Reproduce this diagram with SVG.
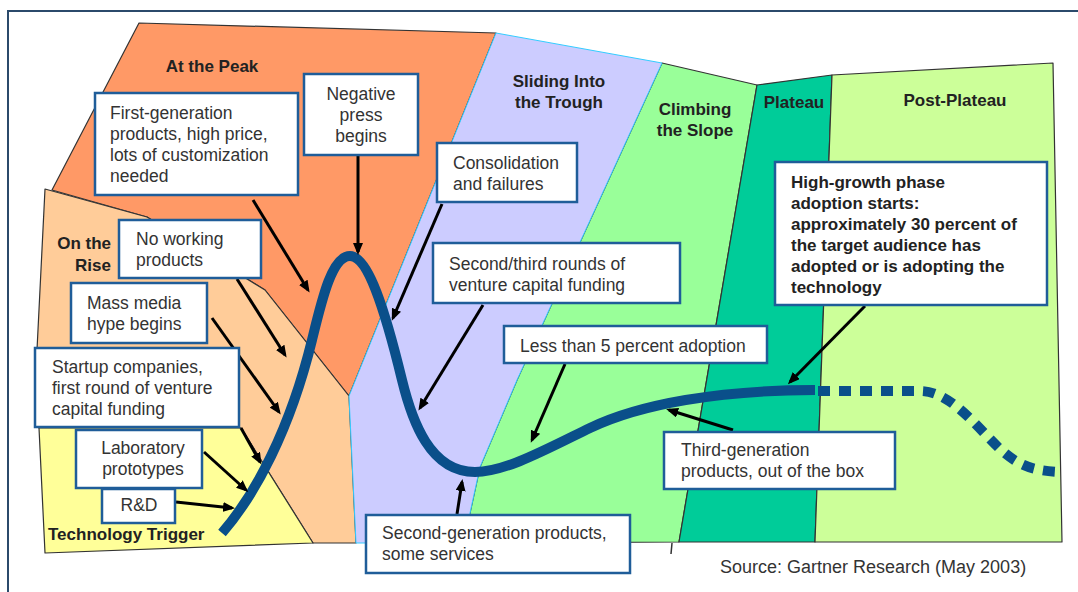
<svg xmlns="http://www.w3.org/2000/svg" width="1078" height="592" viewBox="0 0 1078 592">
<style>
.reg{stroke:#333;stroke-width:1.2;stroke-linejoin:round}
.lbl{font-family:"Liberation Sans",Arial,sans-serif;font-size:17px;font-weight:bold;fill:#222}
.box{fill:#fff;stroke:#1f5d99;stroke-width:2.5}
.bt{font-family:"Liberation Sans",Arial,sans-serif;font-size:17.5px;fill:#333}
.bb{font-family:"Liberation Sans",Arial,sans-serif;font-size:17px;font-weight:bold;fill:#222}
.arr{stroke:#000;stroke-width:3;fill:none;marker-end:url(#ah)}
.curve{fill:none;stroke:#0a4f8a;stroke-width:10}
</style>
<defs>
<marker id="ah" viewBox="0 0 12 10" refX="9" refY="5" markerWidth="12" markerHeight="10" markerUnits="userSpaceOnUse" orient="auto">
<path d="M0,0 L12,5 L0,10 z" fill="#000"/>
</marker>
</defs>
<rect x="0" y="0" width="1078" height="592" fill="#fff"/>
<rect x="8" y="11" width="1085" height="600" fill="#fff" stroke="#2b4a6b" stroke-width="2"/>

<g id="regions">
<polygon class="reg" fill="#FF9966" points="139,23 496,33 349,396 265,290 147,217 52,190"/>
<polygon class="reg" fill="#FFCC99" points="45,189 147,217 265,290 349,396 356,543 313,543 241,428 39,428 37,350"/>
<polygon class="reg" fill="#FFFF99" points="39,428 241,428 313,543 45,553"/>
<polygon class="reg" fill="#99FF99" points="662,63 757,85 679,542 468,543 470,513 480,467 517,380"/>
<polygon class="reg" fill="#00CC99" points="757,85 832,75 815,542 679,542"/>
<polygon class="reg" fill="#CCFF99" points="832,75 1053,63 1062,542 815,542"/>
<polygon fill="#CCCCFF" stroke="#33ccff" stroke-width="1" points="496,33 662,63 517,380 480,467 470,513 468,543 356,543 349,396"/>
<line x1="672" y1="543" x2="671" y2="554" stroke="#333" stroke-width="1.5"/>
</g>

<g id="region-labels">
<text class="lbl" x="212" y="72" text-anchor="middle">At the Peak</text>
<text class="lbl" x="111" y="249" text-anchor="end">On the</text>
<text class="lbl" x="111" y="271" text-anchor="end">Rise</text>
<text class="lbl" x="48" y="540">Technology Trigger</text>
<text class="lbl" x="559" y="87" text-anchor="middle">Sliding Into</text>
<text class="lbl" x="559" y="108" text-anchor="middle">the Trough</text>
<text class="lbl" x="695" y="115" text-anchor="middle">Climbing</text>
<text class="lbl" x="695" y="136" text-anchor="middle">the Slope</text>
<text class="lbl" x="794" y="108" text-anchor="middle">Plateau</text>
<text class="lbl" x="955" y="106" text-anchor="middle">Post-Plateau</text>
</g>

<g id="hype-curve">
<path class="curve" d="M222,533 C255,495 290,430 312,340 C322,299 332,256 350,256 C368,256 385,310 402,380 C412,421 430,472 475,472 C505,472 545,450 590,428 C640,404 720,390 815,390"/>
<path class="curve" stroke-dasharray="12 9" d="M818,391 L920,391 C950,391 975,425 1000,449 C1020,467 1035,471 1062,472"/>
</g>

<g id="connectors">
<line class="arr" x1="253" y1="200" x2="308" y2="290"/>
<line class="arr" x1="358" y1="156" x2="358" y2="252"/>
<line class="arr" x1="442" y1="204" x2="393" y2="318"/>
<line class="arr" x1="483" y1="305" x2="420" y2="408"/>
<line class="arr" x1="565" y1="364" x2="532" y2="440"/>
<line class="arr" x1="865" y1="306" x2="790" y2="382"/>
<line class="arr" x1="733" y1="430" x2="669" y2="410"/>
<line class="arr" x1="457" y1="514" x2="462" y2="482"/>
<line class="arr" x1="237" y1="279" x2="285" y2="355"/>
<line class="arr" x1="212" y1="318" x2="279" y2="412"/>
<line class="arr" x1="241" y1="428" x2="260" y2="462"/>
<line class="arr" x1="204" y1="452" x2="246" y2="490"/>
<line class="arr" x1="176" y1="502" x2="232" y2="508"/>
</g>

<g id="box-first-gen">
<rect class="box" x="95" y="93" width="203" height="102"/>
<text class="bt" x="110" y="119">First-generation</text>
<text class="bt" x="110" y="140">products, high price,</text>
<text class="bt" x="110" y="161">lots of customization</text>
<text class="bt" x="110" y="182">needed</text>
</g>
<g id="box-negative-press">
<rect class="box" x="304" y="74" width="114" height="81"/>
<text class="bt" x="361" y="100" text-anchor="middle">Negative</text>
<text class="bt" x="361" y="121" text-anchor="middle">press</text>
<text class="bt" x="361" y="142" text-anchor="middle">begins</text>
</g>
<g id="box-consolidation">
<rect class="box" x="437" y="143" width="140" height="59"/>
<text class="bt" x="453" y="169">Consolidation</text>
<text class="bt" x="453" y="190">and failures</text>
</g>
<g id="box-second-third">
<rect class="box" x="433" y="243" width="247" height="60"/>
<text class="bt" x="449" y="270">Second/third rounds of</text>
<text class="bt" x="449" y="291">venture capital funding</text>
</g>
<g id="box-less-than-5">
<rect class="box" x="504" y="326" width="263" height="37"/>
<text class="bt" x="520" y="352">Less than 5 percent adoption</text>
</g>
<g id="box-high-growth">
<rect class="box" x="775" y="162" width="272" height="143"/>
<text class="bb" x="791" y="188">High-growth phase</text>
<text class="bb" x="791" y="209">adoption starts:</text>
<text class="bb" x="791" y="230">approximately 30 percent of</text>
<text class="bb" x="791" y="251">the target audience has</text>
<text class="bb" x="791" y="272">adopted or is adopting the</text>
<text class="bb" x="791" y="293">technology</text>
</g>
<g id="box-third-gen">
<rect class="box" x="664" y="432" width="231" height="57"/>
<text class="bt" x="681" y="456">Third-generation</text>
<text class="bt" x="681" y="477">products, out of the box</text>
</g>
<g id="box-second-gen">
<rect class="box" x="366" y="515" width="264" height="58"/>
<text class="bt" x="382" y="539">Second-generation products,</text>
<text class="bt" x="382" y="560">some services</text>
</g>
<g id="box-no-working">
<rect class="box" x="119" y="220" width="142" height="58"/>
<text class="bt" x="136" y="245">No working</text>
<text class="bt" x="136" y="266">products</text>
</g>
<g id="box-mass-media">
<rect class="box" x="71" y="283" width="136" height="60"/>
<text class="bt" x="87" y="309">Mass media</text>
<text class="bt" x="87" y="330">hype begins</text>
</g>
<g id="box-startup">
<rect class="box" x="35" y="348" width="204" height="79"/>
<text class="bt" x="52" y="373">Startup companies,</text>
<text class="bt" x="52" y="394">first round of venture</text>
<text class="bt" x="52" y="415">capital funding</text>
</g>
<g id="box-lab">
<rect class="box" x="76" y="430" width="126" height="58"/>
<text class="bt" x="143" y="454" text-anchor="middle">Laboratory</text>
<text class="bt" x="143" y="475" text-anchor="middle">prototypes</text>
</g>
<g id="box-rd">
<rect class="box" x="102" y="489" width="73" height="34"/>
<text class="bt" x="139" y="511" text-anchor="middle">R&amp;D</text>
</g>

<text x="720" y="573" font-family="Liberation Sans, Arial, sans-serif" font-size="18" fill="#333">Source: Gartner Research (May 2003)</text>
</svg>
